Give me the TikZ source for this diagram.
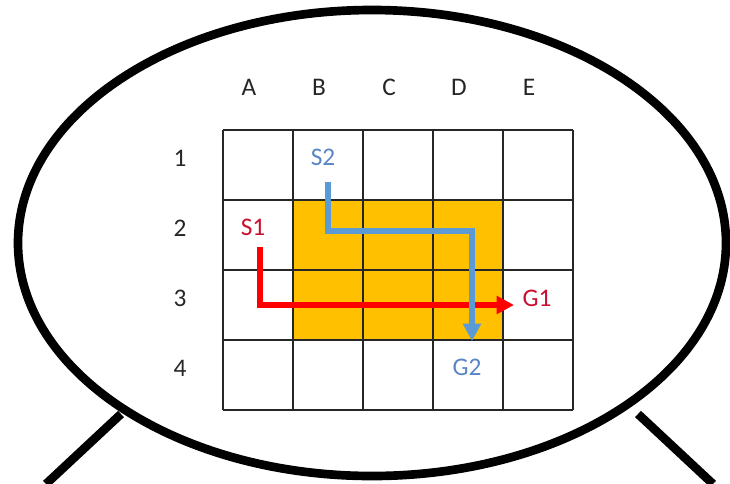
\documentclass[tikz,border=0pt]{standalone}
\usepackage{fontspec}
\setmainfont{Carlito}
\usetikzlibrary{arrows.meta}

\definecolor{cellorange}{HTML}{FFC000}
\definecolor{pathred}{HTML}{FF0000}
\definecolor{labelred}{HTML}{C8102E}
\definecolor{pathblue}{HTML}{5B9BD5}
\definecolor{labelblue}{HTML}{5A85C4}

\begin{document}
\begin{tikzpicture}[x=0.75pt, y=-0.75pt, >={Triangle[length=13pt, width=13pt]},
  font=\fontsize{19}{22}\selectfont,
  gridline/.style={black!85, line width=1.6pt},
  bubble/.style={line width=6.5pt},
  route/.style={line width=3.8pt, ->},
  tag/.style={inner sep=1pt}]

\useasboundingbox (0,0) rectangle (730,483);

% Blocked cells (B2--D3)
\fill[cellorange] (293,200) rectangle (503,340);

% Grid 5 x 4
\foreach \i in {0,...,5} {
  \draw[gridline] (223+70*\i,130) -- (223+70*\i,410);
}
\foreach \j in {0,...,4} {
  \draw[gridline] (223,130+70*\j) -- (573,130+70*\j);
}

% Column and row labels
\foreach \c [count=\i from 0] in {A,B,C,D,E} {
  \node[tag, black!85] (col\c) at (249+70*\i, 87) {\c};
}
\foreach \r [count=\j from 0] in {1,2,3,4} {
  \node[tag, black!85] (row\r) at (180, 158+70*\j) {\r};
}

% Start and goal labels
\node[tag, labelred]  (S1) at (253,227) {S1};
\node[tag, labelred]  (G1) at (537,298) {G1};
\node[tag, labelblue] (S2) at (323,157) {S2};
\node[tag, labelblue] (G2) at (467,367) {G2};

% Routes (blue one crosses over the red one)
\coordinate (s1start) at (260,247);
\coordinate (g1end)   at (514,305);
\coordinate (s2start) at (328,182);
\coordinate (s2turn)  at (472,231);
\coordinate (g2end)   at (472,341);
\draw[route, pathred]  (s1start) |- (g1end);
\draw[route, pathblue] (s2start) |- (s2turn) -- (g2end);

% Speech bubble
\draw[bubble] (372,243) ellipse [x radius=354, y radius=233];
\draw[bubble] (121,414) -- (46,484);
\draw[bubble] (638,414) -- (713,484);

\end{tikzpicture}
\end{document}
